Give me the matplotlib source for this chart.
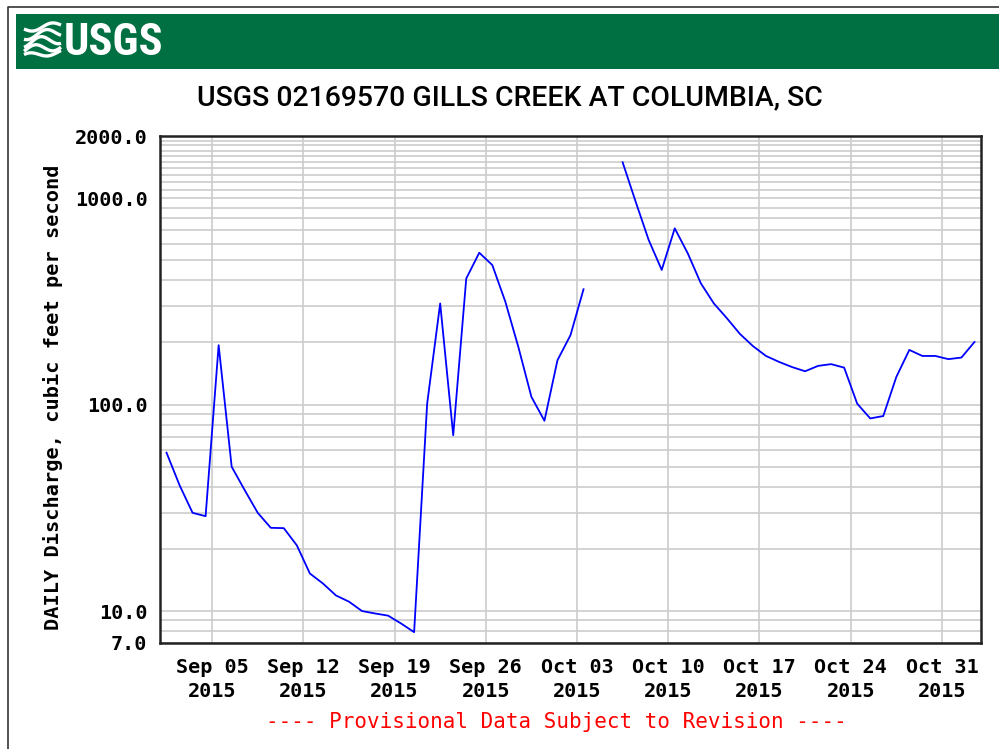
import numpy as np
import pandas as pd
import matplotlib
matplotlib.use("Agg")
import matplotlib.pyplot as plt
import matplotlib.dates as mdates
from matplotlib.ticker import FixedLocator, NullFormatter, FixedFormatter

# ---------------- data ----------------
start_date = "2015-09-01"
end_date = "2015-11-02"
# daily mean discharge, cfs (None = missing)
discharge = [
    58.5, 40.7, 29.9, 28.8, 194, 50, 38.5, 29.9, 25.3, 25.2,      # Sep 1-10
    20.8, 15.2, 13.6, 11.9, 11.1, 10.0, 9.73, 9.5, 8.7, 7.9,      # Sep 11-20
    101, 309, 71, 408, 544, 474, 315, 190, 109, 83.5,             # Sep 21-30
    164, 217, 362, None, None, 1492, 961, 627, 449, 714,          # Oct 1-10
    540, 387, 309, 262, 220, 192, 172, 161, 152, 145,             # Oct 11-20
    154, 157, 151, 101, 85.7, 88, 136, 184, 172, 172,             # Oct 21-30
    166, 169, 201,                                                # Oct 31 - Nov 2
]
y_ticks = [7.0, 10.0, 100.0, 1000.0, 2000.0]
y_ticklabels = ["7.0", "10.0", "100.0", "1000.0", "2000.0"]
x_tick_dates = ["2015-09-05", "2015-09-12", "2015-09-19", "2015-09-26",
                "2015-10-03", "2015-10-10", "2015-10-17", "2015-10-24",
                "2015-10-31"]
x_ticklabels = ["Sep 05\n2015", "Sep 12\n2015", "Sep 19\n2015", "Sep 26\n2015",
                "Oct 03\n2015", "Oct 10\n2015", "Oct 17\n2015", "Oct 24\n2015",
                "Oct 31\n2015"]
title = "USGS 02169570 GILLS CREEK AT COLUMBIA, SC"
ylabel = "DAILY Discharge, cubic feet per second"
footer = "---- Provisional Data Subject to Revision ----"

dates = pd.date_range(start_date, end_date, freq="D") + pd.Timedelta(hours=12)
values = np.array([np.nan if v is None else v for v in discharge], dtype=float)

W, H = 999, 749
fig = plt.figure(figsize=(W / 100, H / 100), dpi=100)
fig.patch.set_facecolor("white")

# ---------------- decorations (pixel coordinates) ----------------
deco = fig.add_axes([0, 0, 1, 1])
deco.set_xlim(0, W)
deco.set_ylim(H, 0)
deco.axis("off")
deco.plot([7.5, 7.5, W], [H, 6.5, 6.5], color="#333333", lw=1.2)
deco.add_patch(plt.Rectangle((16, 14), W - 16, 55, facecolor="#006F41",
                             edgecolor="none"))
# wave emblem
t = np.linspace(0, 1, 60)
for k, (yoff, amp) in enumerate([(29, 3), (36, 4), (43, 4.5), (50, 4), (56, 2.5)]):
    xs = 24 + 37 * t
    ys = yoff + amp * np.sin(2 * np.pi * (t * 1.0 + 0.15 * k)) - 4 * t
    deco.plot(xs, ys, color="white", lw=2.4, solid_capstyle="butt")
deco.text(64, 43, "USGS", color="white", fontsize=32, fontweight="bold",
          family=["Roboto Condensed", "Roboto", "DejaVu Sans"], ha="left",
          va="center")
deco.text(510, 98, title, fontsize=20.4, fontweight="medium",
          family=["Roboto", "Liberation Sans", "DejaVu Sans"],
          ha="center", va="center", color="black")
deco.text(556, 722, footer, fontsize=15, family=["DejaVu Sans Mono"],
          color="#FF0000", ha="center", va="center")
deco.text(53, 397, ylabel, fontsize=14.6, family=["DejaVu Sans Mono"],
          fontweight="bold", rotation=90, ha="center", va="center")

# ---------------- main plot ----------------
left, right, top, bottom = 160, 981, 136, 643
ax = fig.add_axes([left / W, 1 - bottom / H, (right - left) / W, (bottom - top) / H])
ax.set_yscale("log")
ax.set_ylim(7, 2000)
ax.set_xlim(pd.Timestamp("2015-09-01"), pd.Timestamp("2015-11-03"))

minor_vals = [8, 9] + list(range(20, 100, 10)) + list(range(200, 1000, 100)) + \
    list(range(1100, 2000, 100))
ax.yaxis.set_major_locator(FixedLocator(y_ticks))
ax.yaxis.set_major_formatter(FixedFormatter(y_ticklabels))
ax.yaxis.set_minor_locator(FixedLocator(minor_vals))
ax.yaxis.set_minor_formatter(NullFormatter())

xt = [mdates.date2num(pd.Timestamp(d)) for d in x_tick_dates]
ax.xaxis.set_major_locator(FixedLocator(xt))
ax.xaxis.set_major_formatter(FixedFormatter(x_ticklabels))
ax.xaxis.set_minor_locator(FixedLocator([]))

ax.grid(True, which="major", axis="both", color="#cccccc", lw=1.2)
ax.grid(True, which="minor", axis="y", color="#cccccc", lw=1.2)
ax.set_axisbelow(True)

ax.plot(dates, values, color="#0000FF", lw=1.3)

for sp in ax.spines.values():
    sp.set_color("#222222")
    sp.set_linewidth(1.8)

ax.tick_params(axis="both", which="both", length=0)
ax.tick_params(axis="y", pad=9)
ax.tick_params(axis="x", pad=11)
for lab in ax.get_yticklabels() + ax.get_xticklabels():
    lab.set_family("DejaVu Sans Mono")
    lab.set_fontweight("bold")
    lab.set_fontsize(14.5)
for lab in ax.get_xticklabels():
    lab.set_linespacing(1.3)

fig.savefig("out.png", dpi=100)
